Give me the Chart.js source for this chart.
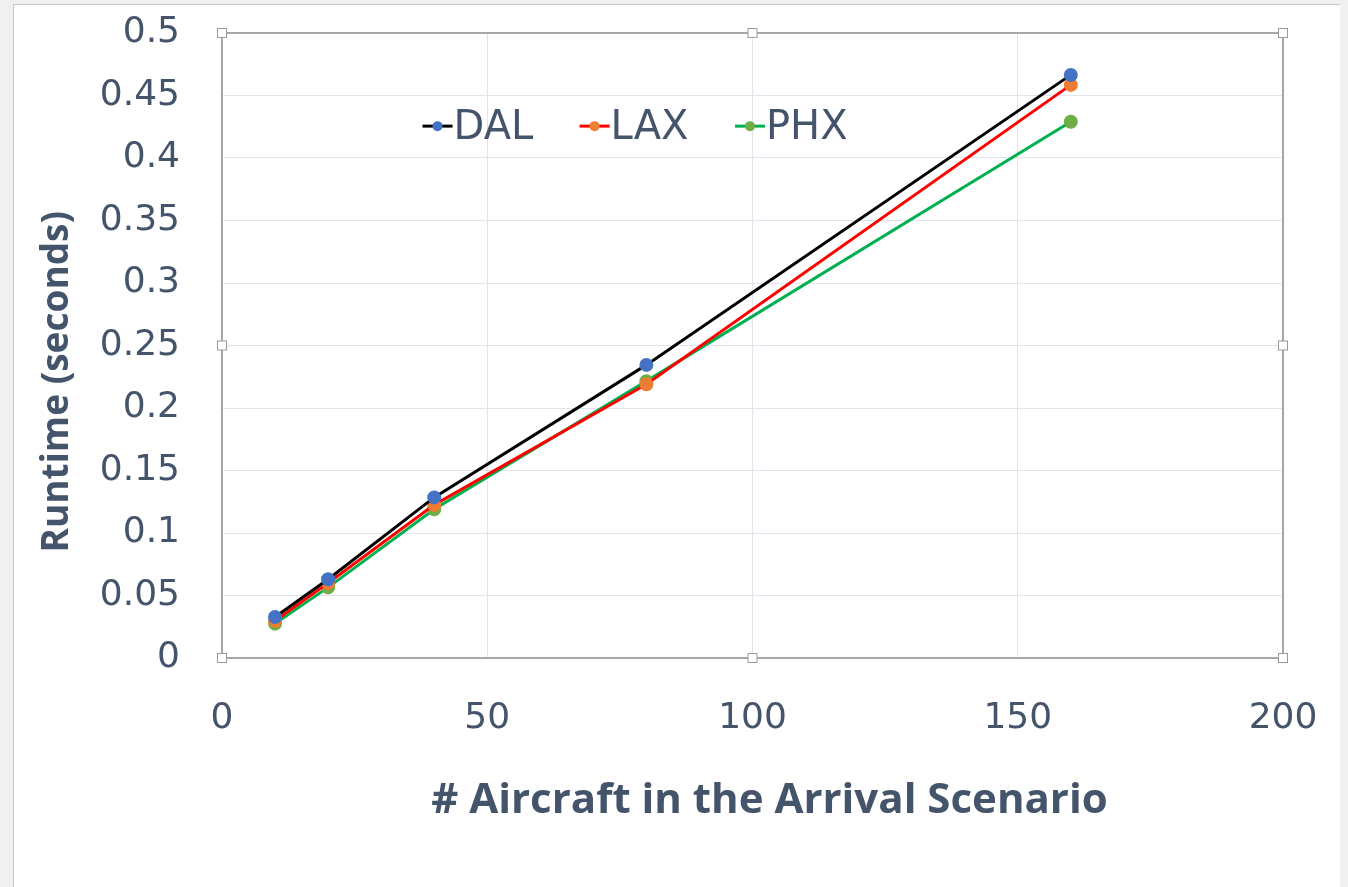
<!DOCTYPE html>
<html>
<head>
<meta charset="utf-8">
<title>Runtime vs aircraft</title>
<script src="https://cdn.jsdelivr.net/npm/chart.js@4.4.1/dist/chart.umd.min.js"></script>
<style>
    html, body { margin: 0; padding: 0; background: #f0f0f0; }
    #panel {
        position: absolute; left: 13px; top: 4px; width: 1326px; height: 883px;
        background: #ffffff; border-left: 1px solid #c8c8c8; border-top: 1px solid #c8c8c8;
    }
    #wrap { position: absolute; left: 0; top: 0; width: 1348px; height: 887px; }
</style>
</head>
<body>
<div id="panel"></div>
<div id="wrap"><canvas id="chart" width="1348" height="887"></canvas></div>
<script>
// ============= Data =============
const aircraft = [10, 20, 40, 80, 160];
const dalRuntime = [0.0328, 0.0630, 0.1285, 0.2345, 0.4665];
const laxRuntime = [0.0298, 0.0600, 0.1225, 0.2190, 0.4585];
const phxRuntime = [0.0275, 0.0565, 0.1190, 0.2215, 0.4290];
const xTicks = [0, 50, 100, 150, 200];
const yTicks = [0, 0.05, 0.1, 0.15, 0.2, 0.25, 0.3, 0.35, 0.4, 0.45, 0.5];

const seriesNames = ['DAL', 'LAX', 'PHX'];
const lineColors = ['#000000', '#ff0000', '#00b050'];
const dotColors = ['#4472c4', '#ed7d31', '#70ad47'];
const xTitle = '# Aircraft in the Arrival Scenario';
const yTitle = 'Runtime (seconds)';

const textColor = '#44546a';
const gridColor = '#e3e3ee';
const axisColor = '#a6a6a6';
const tickFont = { family: '"DejaVu Sans", sans-serif', size: 36 };

function toPoints(ys) {
    return aircraft.map((x, i) => ({ x: x, y: ys[i] }));
}

// In-plot legend, line with dot marker like the spreadsheet
const insideLegend = {
    id: 'insideLegend',
    afterDatasetsDraw(chart) {
        const ctx = chart.ctx;
        const area = chart.chartArea;
        const w = area.right - area.left;
        const y = area.top + (area.bottom - area.top) * 0.149;
        const starts = [0.189, 0.337, 0.4835];
        ctx.save();
        ctx.font = '40px "DejaVu Sans", sans-serif';
        ctx.textBaseline = 'middle';
        chart.data.datasets.forEach((ds, i) => {
            const x0 = area.left + w * starts[i];
            ctx.strokeStyle = ds.borderColor;
            ctx.lineWidth = 3;
            ctx.beginPath();
            ctx.moveTo(x0, y);
            ctx.lineTo(x0 + 30, y);
            ctx.stroke();
            ctx.fillStyle = ds.pointBackgroundColor;
            ctx.beginPath();
            ctx.arc(x0 + 15, y, 5, 0, Math.PI * 2);
            ctx.fill();
            ctx.fillStyle = textColor;
            ctx.fillText(ds.label, x0 + 31, y + 2);
        });
        ctx.restore();
    }
};

// Plot frame with selection handles, plus both axis titles (a bit off centre)
const plotFrame = {
    id: 'plotFrame',
    afterDraw(chart) {
        const ctx = chart.ctx;
        const a = chart.chartArea;
        ctx.save();
        ctx.strokeStyle = axisColor;
        ctx.lineWidth = 2;
        ctx.strokeRect(a.left, a.top, a.right - a.left, a.bottom - a.top);
        const mx = (a.left + a.right) / 2, my = (a.top + a.bottom) / 2;
        const handles = [[a.left, a.top], [mx, a.top], [a.right, a.top], [a.left, my],
            [a.right, my], [a.left, a.bottom], [mx, a.bottom], [a.right, a.bottom]];
        ctx.lineWidth = 1;
        ctx.strokeStyle = '#9a9a9a';
        ctx.fillStyle = '#ffffff';
        handles.forEach(h => {
            ctx.fillRect(h[0] - 4.5, h[1] - 4.5, 9, 9);
            ctx.strokeRect(h[0] - 4.5, h[1] - 4.5, 9, 9);
        });

        ctx.fillStyle = textColor;
        ctx.textAlign = 'center';
        ctx.textBaseline = 'middle';
        ctx.font = 'bold 42px "Open Sans", sans-serif';
        ctx.fillText(xTitle, a.left + (a.right - a.left) * 0.516, a.bottom + 143);

        const ys = chart.scales.y;
        ctx.translate(ys.left + 22, a.top + (a.bottom - a.top) * 0.558);
        ctx.rotate(-Math.PI / 2);
        ctx.font = 'bold 37px "Open Sans", sans-serif';
        ctx.fillText(yTitle, 0, 0);
        ctx.restore();
    }
};

new Chart(document.getElementById('chart'), {
    type: 'line',
    data: {
        datasets: [dalRuntime, laxRuntime, phxRuntime].map((ys, i) => ({
            label: seriesNames[i],
            data: toPoints(ys),
            borderColor: lineColors[i],
            borderWidth: 3,
            pointBackgroundColor: dotColors[i],
            pointBorderColor: dotColors[i],
            pointRadius: 5.5,
            tension: 0
        }))
    },
    options: {
        responsive: false,
        animation: false,
        layout: { padding: { left: 35, right: 65, top: 33, bottom: 59 } },
        plugins: { legend: { display: false }, tooltip: { enabled: false } },
        scales: {
            x: {
                type: 'linear',
                min: 0, max: 200,
                afterBuildTicks: s => { s.ticks = xTicks.map(v => ({ value: v })); },
                afterFit: s => { s.height = 170; s.paddingLeft = 0; s.paddingRight = 0; },
                grid: { color: gridColor, drawTicks: false },
                border: { display: false },
                ticks: { color: textColor, padding: 39, font: tickFont },
                title: { display: false }
            },
            y: {
                min: 0, max: 0.5,
                afterBuildTicks: s => { s.ticks = yTicks.map(v => ({ value: v })); },
                afterFit: s => { s.width = 187; s.paddingTop = 0; s.paddingBottom = 0; },
                grid: { color: gridColor, drawTicks: false },
                border: { display: false },
                ticks: { color: textColor, padding: 42, font: tickFont,
                    callback: v => String(Math.round(v * 100) / 100) },
                title: { display: false }
            }
        }
    },
    plugins: [insideLegend, plotFrame]
});
</script>
</body>
</html>
